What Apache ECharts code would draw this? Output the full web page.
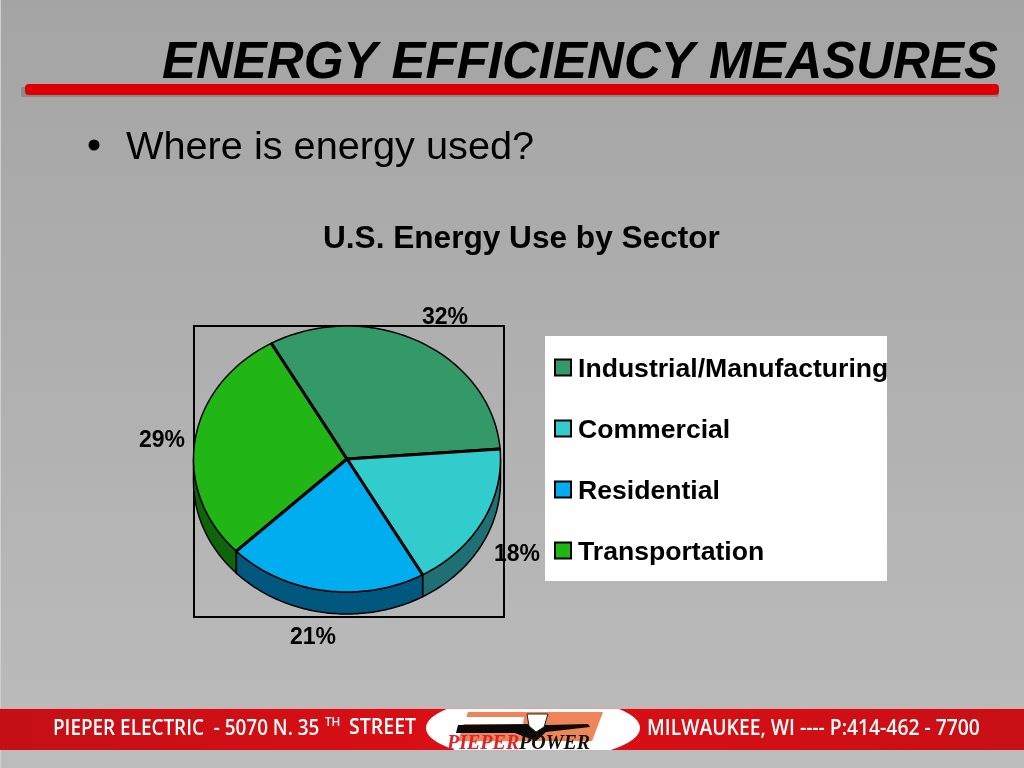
<!DOCTYPE html>
<html><head><meta charset="utf-8">
<style>html,body{margin:0;padding:0;background:#b0b0b0}#c{width:1024px;height:768px}</style>
<script src="https://cdn.jsdelivr.net/npm/echarts@6/dist/echarts.min.js"></script>
</head><body><div id="c"></div>
<script>
// ---- data ----
const categories = ['Industrial/Manufacturing', 'Commercial', 'Residential', 'Transportation'];
const values = [32, 18, 21, 29];
// ---- styling / layout ----
const topColors = ['#339966', '#33cccc', '#00aeef', '#21b515'];
const sideColors = ['#1c5c3c', '#1f7074', '#00587f', '#0f660a'];
const labelAnchors = [[445, 318], [517, 555], [313, 638], [162, 441]];
const pie = { cx: 347, cy: 459, rx: 153.5, ry: 133, depth: 22, start: -29.5 };
const FONT = '"Liberation Sans", Arial, sans-serif';
const total = values.reduce((a, b) => a + b, 0);

function pt(deg, dy) {
  const a = deg * Math.PI / 180;
  return [pie.cx + pie.rx * Math.sin(a), pie.cy - pie.ry * Math.cos(a) + (dy || 0)];
}
function arc(a0, a1, dy) {
  const out = [], n = Math.max(2, Math.ceil(Math.abs(a1 - a0)));
  for (let i = 0; i <= n; i++) out.push(pt(a0 + (a1 - a0) * i / n, dy));
  return out;
}
function renderSector(idx) {
  return function (params, api) {
    const before = values.slice(0, idx).reduce((a, b) => a + b, 0);
    const a0 = pie.start + before / total * 360;
    const a1 = a0 + api.value(0) / total * 360;
    const children = [];
    // visible side wall: the front half of the rim only (90..270 deg clockwise from top)
    const s0 = Math.max(a0, 90), s1 = Math.min(a1, 270);
    if (s1 > s0) {
      children.push({
        type: 'polygon',
        shape: { points: arc(s0, s1, 0).concat(arc(s1, s0, pie.depth)) },
        style: { fill: sideColors[idx], stroke: '#000', lineWidth: 1.5 }
      });
    }
    children.push({
      type: 'polygon',
      shape: { points: [[pie.cx, pie.cy]].concat(arc(a0, a1, 0)) },
      style: { fill: topColors[idx], stroke: '#000', lineWidth: 1.5 }
    });
    [a0, a1].forEach(function (a) {
      const p = pt(a, 0);
      children.push({
        type: 'line',
        shape: { x1: pie.cx, y1: pie.cy, x2: p[0], y2: p[1] },
        style: { stroke: '#000', lineWidth: 3 }
      });
    });
    children.push({
      type: 'text',
      x: labelAnchors[idx][0], y: labelAnchors[idx][1],
      style: {
        text: api.value(0) + '%', fill: '#000', align: 'center', verticalAlign: 'middle',
        font: 'bold 23px ' + FONT
      }
    });
    return { type: 'group', children: children };
  };
}

const series = categories.map(function (name, i) {
  return {
    type: 'custom', name: name, coordinateSystem: 'none', silent: true, animation: false,
    z: 3 + (i === 3 ? 0 : 1),
    itemStyle: { color: topColors[i], borderColor: '#000', borderWidth: 2 },
    renderItem: renderSector(i),
    data: [[values[i]]]
  };
});

const white = '#ffffff';
function stripText(txt, x, y, size, sx) {
  return {
    type: 'text', x: x, y: y, scaleX: sx || 0.9, z: 1,
    style: { text: txt, fill: white, font: '600 ' + size + 'px "Open Sans", sans-serif', align: 'left', verticalAlign: 'middle' }
  };
}
const graphics = [
  { type: 'rect', z: 0, shape: { x: 0, y: 0, width: 1, height: 768 }, style: { fill: '#cfcfcf' } },
  // title rule
  { type: 'rect', z: 0, shape: { x: 21, y: 87, width: 978, height: 10, r: 2 }, style: { fill: '#8a8a8a' } },
  { type: 'rect', z: 1, shape: { x: 25, y: 84, width: 974, height: 11, r: 4 }, style: { fill: '#dc0000' } },
  // bullet
  { type: 'circle', z: 1, shape: { cx: 94, cy: 145, r: 5.5 }, style: { fill: '#000' } },
  // plot frame
  { type: 'rect', z: 1, shape: { x: 194, y: 326, width: 310, height: 291 }, style: { fill: 'none', stroke: '#000', lineWidth: 2 } },
  // legend panel
  { type: 'rect', z: 1, shape: { x: 545, y: 336, width: 342, height: 245 }, style: { fill: '#fff' } },
  // footer strip
  { type: 'rect', z: 1, shape: { x: 0, y: 708, width: 1024, height: 1.5 }, style: { fill: '#e8a0a0' } },
  { type: 'rect', z: 1, shape: { x: 0, y: 709, width: 1024, height: 41 },
    style: { fill: { type: 'linear', x: 0, y: 0, x2: 1, y2: 0, colorStops: [{ offset: 0, color: '#c40f16' }, { offset: 0.5, color: '#dc0f14' }, { offset: 1, color: '#c80f16' }] } } },
  { type: 'group', z: 2, clipPath: { type: 'rect', shape: { x: 0, y: 709, width: 1024, height: 41 } },
    children: [
      { type: 'ellipse', z: 2, shape: { cx: 533, cy: 728, rx: 107, ry: 32 }, style: { fill: '#fff' } },
      { type: 'polygon', z: 2, shape: { points: [[468, 712], [603, 712], [592, 741], [458, 741]] }, style: { fill: '#ee8458' } },
      { type: 'polygon', z: 2, shape: { points: [[466, 717], [524, 717], [523, 724], [462, 724]] }, style: { fill: '#ffffff' } },
      { type: 'polygon', z: 2, shape: { points: [[458, 725], [530, 724], [548, 725], [588, 724], [590, 727], [546, 732], [536, 741], [515, 733], [456, 733]] }, style: { fill: '#0a0a0a' } },
      { type: 'polygon', z: 2, shape: { points: [[527, 714], [548, 714], [544, 727], [536, 732], [529, 726]] }, style: { fill: '#ffffff', stroke: '#222', lineWidth: 1 } },
      { type: 'text', z: 3, x: 447, y: 744, style: { text: 'PIEPER', fill: '#d8242a', font: 'italic bold 20px "Liberation Serif", serif', align: 'left', verticalAlign: 'middle' } },
      { type: 'text', z: 3, x: 519, y: 744, style: { text: 'POWER', fill: '#111', font: 'italic bold 20px "Liberation Serif", serif', align: 'left', verticalAlign: 'middle' } }
    ] },
  stripText('PIEPER ELECTRIC  - 5070 N. 35', 53, 729, 21),
  stripText('TH', 325, 722, 13),
  stripText('STREET', 349, 728, 21, 0.93),
  stripText('MILWAUKEE, WI ---- P:414-462 - 7700', 647, 729, 21, 0.92)
];

const chart = echarts.init(document.getElementById('c'), null, { renderer: 'canvas', width: 1024, height: 768 });
chart.setOption({
  animation: false,
  backgroundColor: { type: 'linear', x: 0, y: 0, x2: 0, y2: 1, colorStops: [{ offset: 0, color: '#a4a4a4' }, { offset: 1, color: '#bcbcbc' }] },
  title: [
    { text: 'ENERGY EFFICIENCY MEASURES', left: 162, top: 38, padding: 0,
      textStyle: { fontFamily: FONT, fontSize: 51, fontWeight: 'bold', fontStyle: 'italic', color: '#000' } },
    { text: 'Where is energy used?', left: 126, top: 128, padding: 0,
      textStyle: { fontFamily: FONT, fontSize: 39.7, fontWeight: 'normal', color: '#000' } },
    { text: 'U.S. Energy Use by Sector', left: 323, top: 223, padding: 0,
      textStyle: { fontFamily: FONT, fontSize: 31.6, fontWeight: 'bold', color: '#000' } }
  ],
  legend: {
    orient: 'vertical', left: 554, top: 356, padding: 0,
    itemWidth: 16, itemHeight: 16, itemGap: 34, icon: 'rect',
    data: categories,
    formatter: '{t|{name}}',
    textStyle: {
      rich: { t: { fontFamily: FONT, fontSize: 26.6, fontWeight: 'bold', color: '#000', padding: [4, 0, 0, 2] } }
    },
    selectedMode: false
  },
  graphic: graphics,
  series: series
});
</script></body></html>
